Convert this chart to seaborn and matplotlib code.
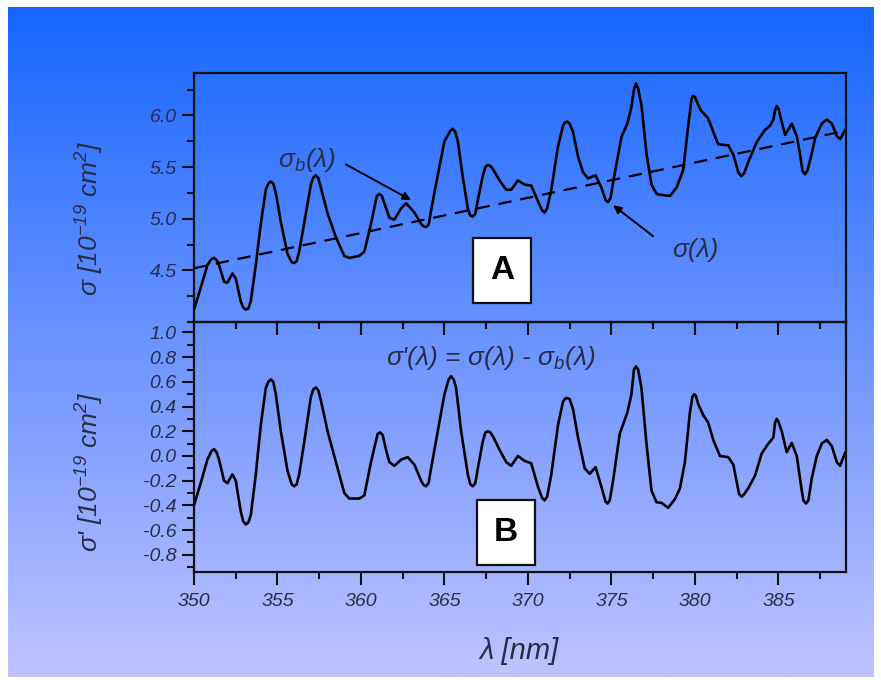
import numpy as np
import pandas as pd
import seaborn as sns
import matplotlib.pyplot as plt
from matplotlib.ticker import MultipleLocator, FuncFormatter

# measured absorption cross section sigma(lambda), panel A
wl_a = [350.0, 350.4, 350.8, 351.05, 351.2, 351.35, 351.5, 351.8, 352.0, 352.3,
        352.5, 352.8, 352.95, 353.1, 353.25, 353.4, 353.7, 354.0, 354.3, 354.45,
        354.6, 354.75, 354.9, 355.2, 355.6, 355.85, 356.0, 356.15, 356.3, 356.7,
        357.0, 357.15, 357.3, 357.45, 357.6, 358.0, 358.5, 359.0, 359.3, 359.9,
        360.2, 360.6, 360.95, 361.1, 361.25, 361.4, 361.7, 362.0, 362.4, 362.7,
        363.2, 363.6, 363.75, 363.9, 364.05, 364.2, 364.6, 365.0, 365.35, 365.5,
        365.65, 365.8, 366.1, 366.4, 366.55, 366.7, 366.85, 367.0, 367.3, 367.45,
        367.6, 367.75, 367.9, 368.3, 368.7, 369.0, 369.4, 369.8, 370.2, 370.6,
        370.85, 371.0, 371.15, 371.4, 371.8, 372.1, 372.2, 372.35, 372.5, 372.7,
        373.0, 373.3, 373.6, 374.05, 374.4, 374.65, 374.8, 374.95, 375.1, 375.6,
        375.95, 376.2, 376.35, 376.47, 376.6, 376.8, 377.1, 377.4, 377.7, 378.0,
        378.5, 378.9, 379.3, 379.6, 379.8, 379.9, 380.0, 380.15, 380.35, 380.8,
        381.1, 381.4, 382.0, 382.3, 382.6, 382.77, 382.95, 383.2, 383.7, 384.2,
        384.5, 384.7, 384.8, 384.9, 385.0, 385.1, 385.4, 385.8, 386.1, 386.3,
        386.45, 386.6, 386.75, 387.0, 387.2, 387.6, 387.9, 388.2, 388.5, 388.7,
        389.0]
sigma = [4.12, 4.33, 4.55, 4.61, 4.62, 4.60, 4.55, 4.39, 4.38, 4.47,
         4.42, 4.20, 4.14, 4.12, 4.13, 4.20, 4.55, 4.95, 5.28, 5.34,
         5.36, 5.34, 5.25, 4.97, 4.66, 4.58, 4.57, 4.59, 4.68, 5.05,
         5.33, 5.40, 5.42, 5.39, 5.30, 5.05, 4.82, 4.64, 4.62, 4.64,
         4.68, 4.95, 5.22, 5.24, 5.22, 5.15, 5.01, 4.99, 5.10, 5.15,
         5.06, 4.95, 4.925, 4.92, 4.94, 5.08, 5.42, 5.75, 5.85, 5.87,
         5.84, 5.75, 5.40, 5.10, 5.03, 5.02, 5.05, 5.18, 5.42, 5.50,
         5.52, 5.51, 5.48, 5.37, 5.28, 5.28, 5.37, 5.33, 5.32, 5.17,
         5.08, 5.06, 5.10, 5.28, 5.70, 5.90, 5.93, 5.94, 5.92, 5.84,
         5.60, 5.45, 5.39, 5.42, 5.30, 5.18, 5.16, 5.20, 5.35, 5.79,
         5.92, 6.08, 6.25, 6.31, 6.26, 6.10, 5.63, 5.33, 5.24, 5.23,
         5.22, 5.30, 5.47, 5.90, 6.16, 6.19, 6.18, 6.12, 6.05, 5.97,
         5.84, 5.72, 5.71, 5.62, 5.45, 5.41, 5.44, 5.55, 5.74, 5.86,
         5.90, 5.96, 6.05, 6.09, 6.07, 6.00, 5.81, 5.92, 5.80, 5.62,
         5.46, 5.43, 5.47, 5.63, 5.78, 5.92, 5.96, 5.92, 5.80, 5.77,
         5.86]

# linear background sigma_b(lambda)
wl_base = [350.0, 389.0]
sigma_base = [4.52, 5.85]

# background-subtracted sigma'(lambda), panel B
wl_b = [350.0, 350.4, 350.8, 351.05, 351.2, 351.35, 351.5, 351.8, 352.0, 352.3,
        352.5, 352.8, 352.95, 353.1, 353.25, 353.4, 353.7, 354.0, 354.3, 354.45,
        354.6, 354.75, 354.9, 355.2, 355.6, 355.85, 356.0, 356.15, 356.3, 356.7,
        357.0, 357.15, 357.3, 357.45, 357.6, 358.0, 358.5, 359.0, 359.3, 359.9,
        360.2, 360.6, 361.0, 361.15, 361.3, 361.5, 361.7, 362.0, 362.4, 362.8,
        363.2, 363.6, 363.75, 363.9, 364.05, 364.2, 364.6, 365.0, 365.25, 365.4,
        365.55, 365.7, 366.0, 366.4, 366.55, 366.7, 366.85, 367.0, 367.3, 367.45,
        367.6, 367.75, 367.9, 368.3, 368.7, 369.0, 369.4, 369.8, 370.2, 370.6,
        370.85, 371.0, 371.15, 371.4, 371.8, 372.1, 372.2, 372.35, 372.5, 372.7,
        373.0, 373.4, 373.7, 374.05, 374.4, 374.65, 374.77, 374.9, 375.1, 375.5,
        375.95, 376.2, 376.35, 376.47, 376.6, 376.8, 377.1, 377.4, 377.7, 378.0,
        378.4, 378.8, 379.1, 379.4, 379.7, 379.85, 379.95, 380.05, 380.2, 380.5,
        380.8, 381.1, 381.5, 382.0, 382.3, 382.65, 382.8, 382.95, 383.2, 383.6,
        384.0, 384.4, 384.7, 384.8, 384.9, 385.0, 385.2, 385.5, 385.8, 386.1,
        386.4, 386.5, 386.65, 386.8, 387.0, 387.3, 387.6, 387.9, 388.2, 388.5,
        388.7, 389.0]
sigma_prime = [-0.40, -0.22, -0.03, 0.04, 0.055, 0.03, -0.03, -0.20, -0.22, -0.15,
               -0.20, -0.45, -0.53, -0.555, -0.54, -0.48, -0.15, 0.25, 0.55, 0.60,
               0.62, 0.60, 0.50, 0.20, -0.12, -0.23, -0.245, -0.23, -0.15, 0.20,
               0.48, 0.54, 0.555, 0.53, 0.45, 0.20, -0.05, -0.30, -0.345, -0.345,
               -0.32, -0.05, 0.18, 0.19, 0.17, 0.05, -0.05, -0.08, -0.03, -0.01,
               -0.07, -0.20, -0.235, -0.245, -0.22, -0.10, 0.20, 0.50, 0.62, 0.645,
               0.62, 0.55, 0.20, -0.15, -0.23, -0.245, -0.22, -0.10, 0.12, 0.19,
               0.20, 0.19, 0.16, 0.05, -0.05, -0.08, 0.00, -0.04, -0.06, -0.25,
               -0.34, -0.36, -0.33, -0.15, 0.25, 0.44, 0.46, 0.47, 0.46, 0.38,
               0.15, -0.10, -0.145, -0.09, -0.25, -0.37, -0.385, -0.36, -0.20, 0.18,
               0.35, 0.50, 0.70, 0.725, 0.70, 0.55, 0.10, -0.28, -0.375, -0.38,
               -0.42, -0.35, -0.265, -0.05, 0.35, 0.48, 0.50, 0.49, 0.42, 0.33,
               0.27, 0.13, 0.00, -0.01, -0.07, -0.31, -0.33, -0.31, -0.26, -0.16,
               0.02, 0.10, 0.15, 0.27, 0.30, 0.28, 0.20, 0.03, 0.105, 0.00,
               -0.28, -0.36, -0.385, -0.36, -0.18, 0.00, 0.10, 0.13, 0.08, -0.05,
               -0.08, 0.03]

df_a = pd.DataFrame({"wl": wl_a, "sigma": sigma})
df_base = pd.DataFrame({"wl": wl_base, "sigma": sigma_base})
df_b = pd.DataFrame({"wl": wl_b, "sigma": sigma_prime})

plt.rcParams['font.family'] = ['Liberation Sans', 'DejaVu Sans']
plt.rcParams['mathtext.fontset'] = 'custom'
plt.rcParams['mathtext.rm'] = 'Liberation Sans:italic'
plt.rcParams['mathtext.it'] = 'Liberation Sans:italic'
plt.rcParams['axes.unicode_minus'] = False

W, H = 881, 684
fig = plt.figure(figsize=(W / 100, H / 100), dpi=100)
fig.patch.set_facecolor('white')

# gradient background
bg = fig.add_axes([8 / W, 7 / H, (874 - 8) / W, (677 - 7) / H], zorder=-10)
top_c = np.array([22, 102, 255]) / 255
bot_c = np.array([192, 194, 255]) / 255
t = np.linspace(0, 1, 256)[:, None]
grad = top_c[None, :] * (1 - t) + bot_c[None, :] * t
bg.imshow(grad[:, None, :], aspect='auto', extent=[0, 1, 0, 1])
bg.set_axis_off()

txt_col = '#2a2d48'
fmt = FuncFormatter(lambda v, p: f'{round(v, 1) + 0.0:.1f}')
line_kw = dict(color='black', lw=1.9, solid_joinstyle='round', solid_capstyle='round')

left, width = 194 / W, (846 - 194) / W
ax_a = fig.add_axes([left, 1 - 322 / H, width, (322 - 73) / H])
ax_b = fig.add_axes([left, 1 - 572 / H, width, (572 - 322) / H])
for ax in (ax_a, ax_b):
    ax.patch.set_alpha(0)
    for s in ax.spines.values():
        s.set_linewidth(1.6)
        s.set_color('#111111')
    ax.set_xlim(350, 389.05)
    ax.xaxis.set_major_locator(MultipleLocator(5))
    ax.xaxis.set_minor_locator(MultipleLocator(2.5))
    ax.tick_params(axis='both', which='major', length=9, width=1.5, colors='#111111',
                   labelsize=14, labelcolor=txt_col)
    ax.tick_params(axis='both', which='minor', length=5, width=1.5, colors='#111111')
    ax.yaxis.set_major_formatter(fmt)

# panel A
sns.lineplot(data=df_a, x="wl", y="sigma", ax=ax_a, **line_kw)
sns.lineplot(data=df_base, x="wl", y="sigma", ax=ax_a, color='black', lw=1.6,
             linestyle=(0, (6, 4)))
ax_a.set_xlabel('')
ax_a.set_ylabel('')
ax_a.set_ylim(4.0, 6.41)
ax_a.set_yticks([4.5, 5.0, 5.5, 6.0])
ax_a.yaxis.set_minor_locator(MultipleLocator(0.25))
ax_a.tick_params(axis='x', which='both', bottom=False, labelbottom=False)

arrow_kw = dict(arrowstyle='-|>', color='black', lw=1.4, mutation_scale=12,
                shrinkA=0, shrinkB=0)
ax_a.text(356.8, 5.57, 'σ$_b$(λ)', ha='center', va='center', fontsize=19,
          style='italic', color=txt_col)
ax_a.annotate('', xy=(363.0, 5.18), xytext=(359.1, 5.525), arrowprops=arrow_kw)
ax_a.text(380.0, 4.70, 'σ(λ)', ha='center', va='center', fontsize=19,
          style='italic', color=txt_col)
ax_a.annotate('', xy=(375.1, 5.13), xytext=(377.5, 4.83), arrowprops=arrow_kw)
ax_a.text(368.46, 4.50, 'A', ha='center', va='center', fontsize=24, fontweight='bold',
          bbox=dict(boxstyle='square,pad=0.5', fc='white', ec='#111111', lw=1.6))

# panel B
sns.lineplot(data=df_b, x="wl", y="sigma", ax=ax_b, **line_kw)
ax_b.set_xlabel('')
ax_b.set_ylabel('')
ax_b.set_ylim(-0.94, 1.085)
ax_b.set_yticks(np.arange(-0.8, 1.01, 0.2))
ax_b.yaxis.set_minor_locator(MultipleLocator(0.1))
ax_b.tick_params(axis='x', which='both', top=True, direction='out', pad=6)
ax_b.text(367.8, 0.79, "σ'(λ) = σ(λ) - σ$_b$(λ)", ha='center', va='center',
          fontsize=19, style='italic', color=txt_col)
ax_b.text(368.7, -0.62, 'B', ha='center', va='center', fontsize=24, fontweight='bold',
          bbox=dict(boxstyle='square,pad=0.5', fc='white', ec='#111111', lw=1.6))

# top ticks of panel B point inward
for tk in ax_b.xaxis.get_major_ticks() + ax_b.xaxis.get_minor_ticks():
    tk.tick2line.set_marker(3)

for lab in ax_a.get_yticklabels() + ax_b.get_yticklabels() + ax_b.get_xticklabels():
    lab.set_style('italic')

fig.text(90 / W, 1 - 218 / H, 'σ [10$^{-19}$ cm$^2$]', rotation=90, style='italic',
         ha='center', va='center', fontsize=19, color=txt_col)
fig.text(90 / W, 1 - 472 / H, "σ' [10$^{-19}$ cm$^2$]", rotation=90, style='italic',
         ha='center', va='center', fontsize=19, color=txt_col)
fig.text(519 / W, 1 - 651 / H, 'λ [nm]', ha='center', va='center', style='italic',
         fontsize=21, color=txt_col)

fig.savefig('out.png', dpi=100)
